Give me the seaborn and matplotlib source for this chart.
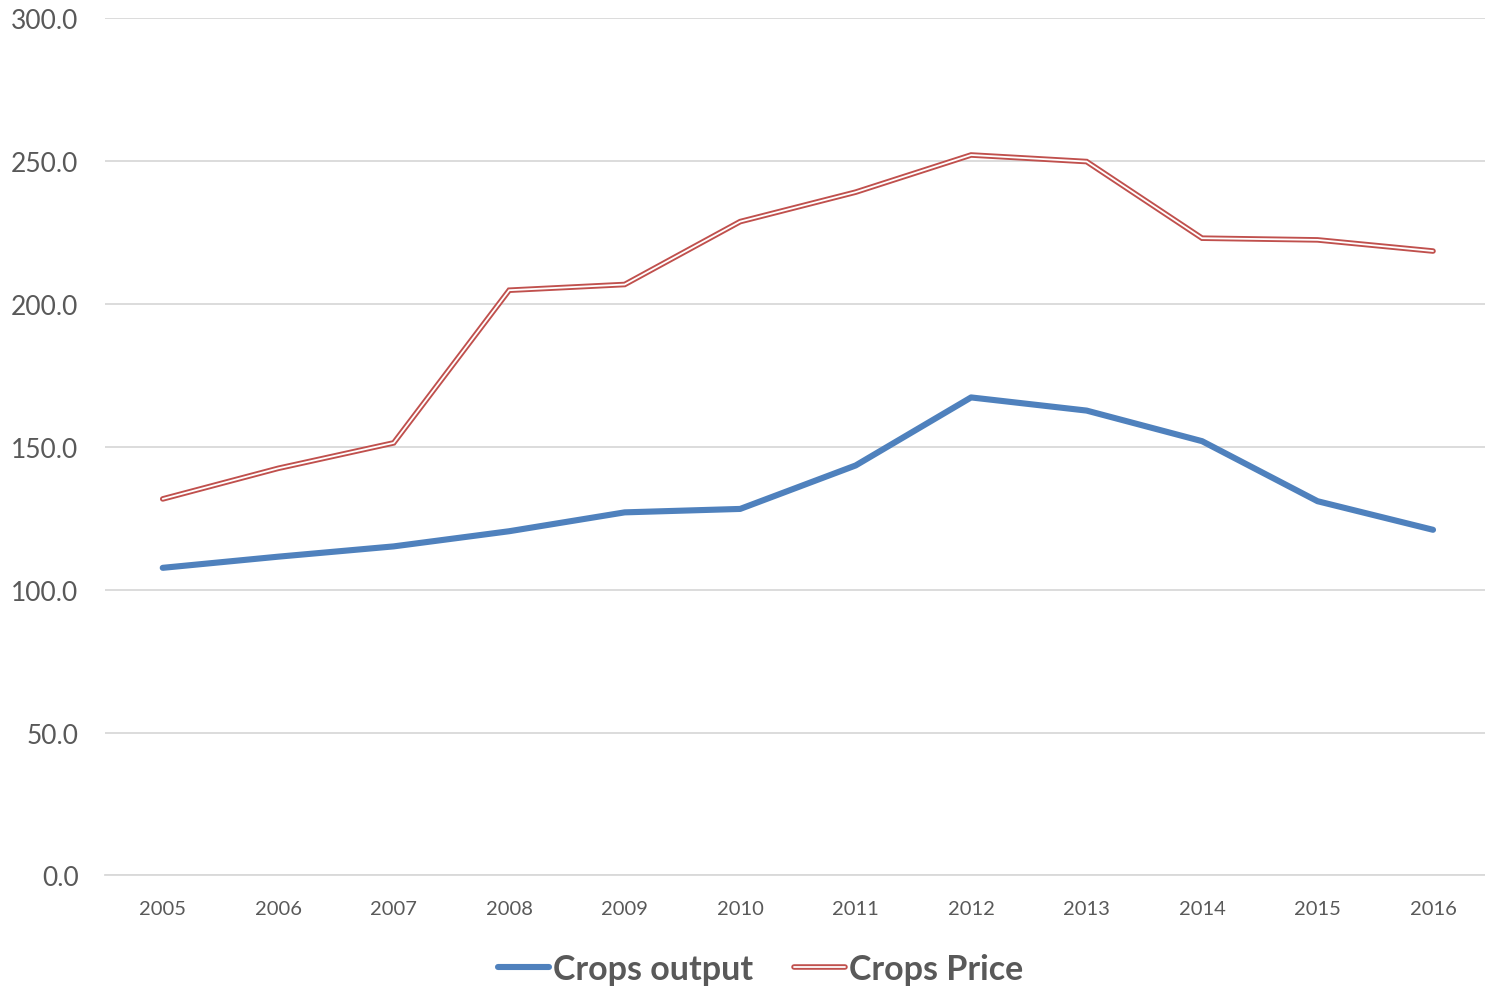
import matplotlib
matplotlib.use("Agg")
import matplotlib.pyplot as plt
import matplotlib.patheffects as pe
import seaborn as sns
import pandas as pd

years = ["2005", "2006", "2007", "2008", "2009", "2010",
         "2011", "2012", "2013", "2014", "2015", "2016"]
crops_output = [107.6, 111.5, 115.1, 120.4, 127.0, 128.2,
                143.4, 167.2, 162.6, 151.9, 130.9, 120.9]
crops_price = [131.7, 142.4, 151.3, 204.7, 206.7, 228.7,
               239.0, 252.0, 249.7, 222.9, 222.3, 218.4]
y_ticks = [0, 50, 100, 150, 200, 250, 300]

sns.set_theme(style="white")
plt.rcParams["font.family"] = ["Lato", "DejaVu Sans"]

text_color = "#595959"
blue = "#4f81bd"
red = "#c0504d"

df = pd.DataFrame({"year": years, "output": crops_output, "price": crops_price})
df["pos"] = range(len(years))

fig = plt.figure(figsize=(14.85, 9.87), dpi=100)
ax = fig.add_axes([0.0707, 0.1120, 0.9293, 0.8690])

sns.lineplot(data=df, x="pos", y="output", ax=ax, color=blue, linewidth=4.4,
             solid_capstyle="round", solid_joinstyle="round", label="Crops output")
sns.lineplot(data=df, x="pos", y="price", ax=ax, color="white", linewidth=1.3,
             solid_capstyle="round", solid_joinstyle="miter", label="Crops Price",
             path_effects=[pe.Stroke(linewidth=4.0, foreground=red,
                                     capstyle="round", joinstyle="miter"),
                           pe.Normal()])

ax.set_xlim(-0.5, 11.45)
ax.set_ylim(0, 300)
ax.set_xticks(df["pos"])
ax.set_xticklabels(years)
ax.set_yticks(y_ticks)
ax.set_yticklabels([f"{v:.1f}" for v in y_ticks])
ax.set_xlabel("")
ax.set_ylabel("")

ax.grid(axis="y", color="#d9d9d9", linewidth=1.3)
ax.set_axisbelow(True)
for side in ["top", "right", "left"]:
    ax.spines[side].set_visible(False)
ax.spines["bottom"].set_color("#d9d9d9")
ax.spines["bottom"].set_linewidth(1.3)

ax.tick_params(axis="y", labelsize=19, colors=text_color, length=0, pad=19)
ax.tick_params(axis="x", labelsize=14.5, colors=text_color, length=0, pad=17.5)

leg = ax.legend(loc="upper center", bbox_to_anchor=(0.475, -0.055), ncol=2,
                frameon=False, handlelength=1.5, handletextpad=0.12,
                columnspacing=1.2, prop={"size": 24.5, "weight": "bold"})
for t in leg.get_texts():
    t.set_color(text_color)

fig.savefig("out.png", dpi=100, facecolor="white")
